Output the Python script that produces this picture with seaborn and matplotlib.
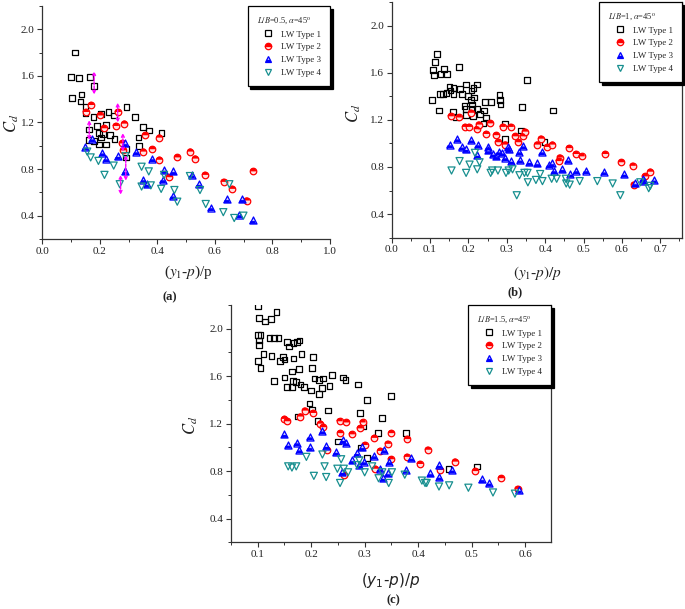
import matplotlib
matplotlib.use("Agg")
from matplotlib import pyplot as plt
from matplotlib.lines import Line2D
from matplotlib.markers import MarkerStyle
from matplotlib.ticker import MultipleLocator
import seaborn as sns

sns.set_theme(style="ticks")
plt.rcParams['font.family'] = ['Liberation Serif', 'DejaVu Serif']
plt.rcParams['mathtext.fontset'] = 'stix'

# ---- data ----
type_labels = ['LW Type 1', 'LW Type 2', 'LW Type 3', 'LW Type 4']

# (a) L/B = 0.5
a_t1_x = [0.114, 0.10, 0.127, 0.165, 0.18, 0.104, 0.136, 0.133, 0.15, 0.15, 0.178, 0.203, 0.23, 0.25,
          0.293, 0.321, 0.221, 0.191, 0.198, 0.211, 0.205, 0.235, 0.251, 0.163, 0.163, 0.18, 0.196,
          0.222, 0.29, 0.29, 0.349, 0.371, 0.334, 0.337, 0.414]
a_t1_y = [1.80, 1.59, 1.58, 1.59, 1.51, 1.41, 1.44, 1.38, 1.33, 1.28, 1.25, 1.27, 1.29, 1.26,
          1.33, 1.25, 1.18, 1.17, 1.11, 1.10, 1.07, 1.09, 1.06, 1.14, 1.05, 1.04, 1.01,
          1.01, 0.97, 0.90, 1.16, 1.13, 1.07, 1.00, 1.11]
a_t2_x = [0.169, 0.151, 0.20, 0.262, 0.214, 0.255, 0.285, 0.277, 0.282, 0.358, 0.407, 0.351, 0.382,
          0.407, 0.469, 0.441, 0.514, 0.531, 0.565, 0.63, 0.66, 0.71, 0.733]
a_t2_y = [1.35, 1.29, 1.26, 1.29, 1.15, 1.17, 1.19, 1.02, 0.96, 1.09, 1.07, 0.95, 0.97,
          0.88, 0.90, 0.73, 0.95, 0.89, 0.75, 0.69, 0.63, 0.53, 0.78]
a_t3_x = [0.149, 0.172, 0.209, 0.221, 0.262, 0.287, 0.287, 0.326, 0.382, 0.351, 0.364, 0.423, 0.418,
          0.455, 0.453, 0.519, 0.543, 0.585, 0.641, 0.695, 0.685, 0.731]
a_t3_y = [0.99, 1.06, 0.94, 0.89, 0.91, 1.02, 0.78, 0.95, 0.89, 0.71, 0.67, 0.79, 0.71,
          0.78, 0.57, 0.75, 0.67, 0.47, 0.54, 0.54, 0.41, 0.36]
a_t4_x = [0.156, 0.168, 0.195, 0.216, 0.248, 0.269, 0.289, 0.345, 0.37, 0.345, 0.377, 0.423, 0.413,
          0.459, 0.469, 0.513, 0.548, 0.568, 0.629, 0.65, 0.667, 0.699]
a_t4_y = [0.95, 0.90, 0.87, 0.75, 0.83, 0.67, 0.91, 0.82, 0.78, 0.65, 0.66, 0.75, 0.63,
          0.62, 0.52, 0.74, 0.62, 0.50, 0.43, 0.67, 0.38, 0.40]
# magenta double arrows in (a)
arr_x = [0.18, 0.163, 0.262, 0.28, 0.29, 0.272]
arr_lo = [1.44, 1.05, 1.20, 0.95, 0.70, 0.58]
arr_hi = [1.64, 1.22, 1.37, 1.11, 0.92, 0.75]

# (b) L/B = 1
b_t1_x = [0.119, 0.112, 0.108, 0.111, 0.106, 0.124, 0.125, 0.133, 0.127, 0.137, 0.145, 0.143, 0.151,
          0.153, 0.161, 0.161, 0.159, 0.168, 0.175, 0.179, 0.183, 0.193, 0.19, 0.198, 0.194, 0.194,
          0.208, 0.206, 0.209, 0.21, 0.212, 0.213, 0.215, 0.222, 0.222, 0.231, 0.239, 0.243, 0.241,
          0.246, 0.258, 0.281, 0.282, 0.284, 0.295, 0.295, 0.337, 0.34, 0.353, 0.398, 0.421]
b_t1_y = [1.76, 1.69, 1.62, 1.58, 1.37, 1.28, 1.42, 1.42, 1.59, 1.63, 1.59, 1.43, 1.48,
          1.45, 1.47, 1.42, 1.27, 1.22, 1.65, 1.46, 1.42, 1.50, 1.32, 1.40, 1.29, 1.24,
          1.45, 1.37, 1.33, 1.29, 1.23, 1.47, 1.39, 1.50, 1.29, 1.25, 1.17, 1.35, 1.28,
          1.22, 1.35, 1.41, 1.37, 1.33, 1.17, 1.04, 1.11, 1.31, 1.54, 1.01, 1.28]
b_t2_x = [0.154, 0.175, 0.191, 0.201, 0.207, 0.222, 0.227, 0.257, 0.246, 0.272, 0.277, 0.289, 0.296,
          0.31, 0.322, 0.33, 0.341, 0.347, 0.379, 0.389, 0.406, 0.419, 0.438, 0.435, 0.462, 0.48,
          0.495, 0.556, 0.599, 0.628, 0.631, 0.66, 0.674]
b_t2_y = [1.23, 1.22, 1.14, 1.14, 1.26, 1.12, 1.16, 1.17, 1.08, 1.07, 1.01, 1.14, 0.99,
          1.14, 1.06, 1.01, 1.06, 1.10, 0.99, 1.04, 0.97, 0.99, 0.88, 0.85, 0.96, 0.91,
          0.89, 0.91, 0.84, 0.81, 0.65, 0.72, 0.76]
b_t3_x = [0.151, 0.171, 0.182, 0.193, 0.208, 0.224, 0.223, 0.251, 0.252, 0.264, 0.273, 0.281, 0.288,
          0.295, 0.302, 0.305, 0.312, 0.333, 0.334, 0.343, 0.359, 0.38, 0.391, 0.41, 0.417, 0.423,
          0.445, 0.459, 0.465, 0.481, 0.506, 0.553, 0.606, 0.635, 0.654, 0.659, 0.683]
b_t3_y = [0.99, 1.04, 0.97, 0.95, 1.03, 0.99, 0.90, 0.97, 0.94, 0.91, 0.89, 0.93, 0.92,
          0.88, 0.97, 0.95, 0.85, 0.93, 0.86, 0.98, 0.84, 0.83, 0.93, 0.82, 0.83, 0.77,
          0.78, 0.86, 0.74, 0.77, 0.77, 0.76, 0.74, 0.66, 0.70, 0.68, 0.69]
b_t4_x = [0.156, 0.177, 0.194, 0.203, 0.217, 0.223, 0.229, 0.258, 0.262, 0.277, 0.298, 0.305, 0.315,
          0.326, 0.333, 0.346, 0.354, 0.355, 0.376, 0.387, 0.393, 0.417, 0.43, 0.454, 0.455, 0.464,
          0.49, 0.536, 0.576, 0.596, 0.648, 0.67, 0.674]
b_t4_y = [0.77, 0.85, 0.75, 0.82, 0.92, 0.78, 0.84, 0.75, 0.77, 0.77, 0.75, 0.77, 0.78,
          0.56, 0.73, 0.75, 0.75, 0.67, 0.69, 0.74, 0.68, 0.70, 0.70, 0.70, 0.66, 0.65,
          0.68, 0.68, 0.66, 0.56, 0.67, 0.62, 0.64]

# (c) L/B = 1.5
c_t1_x = [0.1, 0.103, 0.113, 0.125, 0.135, 0.1, 0.105, 0.102, 0.103, 0.122, 0.13, 0.139, 0.155,
          0.158, 0.167, 0.173, 0.178, 0.111, 0.126, 0.1, 0.105, 0.142, 0.147, 0.15, 0.167, 0.182,
          0.203, 0.131, 0.15, 0.155, 0.164, 0.164, 0.177, 0.166, 0.172, 0.18, 0.187, 0.2, 0.201,
          0.206, 0.214, 0.222, 0.215, 0.22, 0.234, 0.239, 0.259, 0.264, 0.287, 0.197, 0.201, 0.175,
          0.212, 0.231, 0.291, 0.304, 0.298, 0.25, 0.293, 0.304, 0.325, 0.332, 0.349, 0.377, 0.457,
          0.51]
c_t1_y = [2.19, 2.09, 2.06, 2.08, 2.14, 1.95, 1.95, 1.90, 1.86, 1.92, 1.92, 1.92, 1.89,
          1.85, 1.88, 1.89, 1.90, 1.79, 1.77, 1.73, 1.67, 1.73, 1.76, 1.74, 1.75, 1.79,
          1.76, 1.56, 1.59, 1.51, 1.51, 1.64, 1.66, 1.56, 1.55, 1.53, 1.51, 1.48, 1.67,
          1.58, 1.57, 1.58, 1.45, 1.50, 1.52, 1.61, 1.59, 1.57, 1.53, 1.37, 1.32, 1.26,
          1.22, 1.31, 1.29, 1.40, 1.18, 1.05, 1.00, 0.91, 1.12, 1.25, 1.43, 1.12, 0.82,
          0.84]
c_t2_x = [0.15, 0.155, 0.18, 0.188, 0.203, 0.217, 0.222, 0.253, 0.266, 0.254, 0.276, 0.291, 0.296,
          0.23, 0.3, 0.318, 0.329, 0.32, 0.343, 0.35, 0.349, 0.261, 0.379, 0.38, 0.403, 0.418,
          0.441, 0.469, 0.507, 0.555, 0.586]
c_t2_y = [1.24, 1.22, 1.26, 1.31, 1.29, 1.20, 1.17, 1.22, 1.21, 1.12, 1.11, 1.16, 1.21,
          0.98, 1.02, 1.08, 0.97, 0.82, 1.03, 1.12, 0.90, 0.77, 0.92, 1.07, 0.86, 0.98,
          0.81, 0.88, 0.80, 0.74, 0.65]
c_t3_x = [0.15, 0.156, 0.173, 0.178, 0.197, 0.197, 0.221, 0.228, 0.246, 0.259, 0.265, 0.258, 0.277,
          0.285, 0.295, 0.298, 0.29, 0.317, 0.328, 0.335, 0.337, 0.343, 0.346, 0.378, 0.387, 0.423,
          0.439, 0.439, 0.463, 0.519, 0.532, 0.588]
c_t3_y = [1.11, 1.02, 1.04, 0.98, 1.09, 1.00, 1.14, 1.01, 0.96, 1.06, 1.04, 0.79, 0.89,
          0.95, 1.00, 0.88, 0.85, 0.93, 0.82, 0.74, 0.98, 0.78, 0.88, 0.81, 0.91, 0.78,
          0.85, 0.75, 0.81, 0.73, 0.70, 0.64]
c_t4_x = [0.157, 0.164, 0.172, 0.191, 0.205, 0.221, 0.225, 0.228, 0.249, 0.254, 0.256, 0.261, 0.269,
          0.286, 0.29, 0.3, 0.314, 0.326, 0.333, 0.345, 0.351, 0.375, 0.407, 0.413, 0.416, 0.439,
          0.458, 0.494, 0.54, 0.581]
c_t4_y = [0.84, 0.83, 0.84, 0.92, 0.76, 0.94, 0.84, 0.75, 0.82, 0.70, 0.90, 0.82, 0.79,
          0.85, 0.89, 0.79, 0.84, 0.74, 0.79, 0.70, 0.79, 0.77, 0.72, 0.70, 0.70, 0.67,
          0.68, 0.66, 0.62, 0.61]

RED = '#ff0000'
BLUE = '#0000ff'
TEAL = '#178f8f'


def open_pts(ax, x, y, marker, color, size):
    sns.scatterplot(x=x, y=y, ax=ax, marker=marker, s=size, facecolor='none',
                    edgecolor=color, linewidth=0.9, legend=False, zorder=3)


def half_pts(ax, x, y, marker, fill, color, alt, size):
    # full marker in the light colour, then the solid half on top
    sns.scatterplot(x=x, y=y, ax=ax, marker=marker, s=size, color=alt,
                    edgecolor=color, linewidth=0.9, legend=False, zorder=3)
    sns.scatterplot(x=x, y=y, ax=ax, marker=MarkerStyle(marker, fillstyle=fill), s=size,
                    color=color, edgecolor='none', linewidth=0, legend=False, zorder=3)


def draw_panel(ax, t1, t2, t3, t4):
    open_pts(ax, t1[0], t1[1], 's', 'black', 17)
    half_pts(ax, t2[0], t2[1], 'o', 'top', RED, '#ffe0e0', 22)
    half_pts(ax, t3[0], t3[1], '^', 'bottom', BLUE, '#c8c8ff', 26)
    open_pts(ax, t4[0], t4[1], 'v', TEAL, 26)


def add_legend(ax, title):
    handles = [
        Line2D([], [], ls='none', marker='s', ms=4.2, mfc='none', mec='black', mew=0.9),
        Line2D([], [], ls='none', marker='o', ms=4.6, fillstyle='top', mfc=RED,
               mfcalt='#ffe0e0', mec=RED, mew=0.9),
        Line2D([], [], ls='none', marker='^', ms=5.0, fillstyle='bottom', mfc=BLUE,
               mfcalt='#c8c8ff', mec=BLUE, mew=0.9),
        Line2D([], [], ls='none', marker='v', ms=5.0, mfc='none', mec=TEAL, mew=0.9),
    ]
    leg = ax.legend(handles=handles, labels=type_labels, title=title, loc='upper right',
                    bbox_to_anchor=(1, 1), borderaxespad=0, frameon=True, fancybox=False,
                    shadow={'color': 'black', 'alpha': 1}, edgecolor='black', framealpha=1,
                    fontsize=6.5, title_fontsize=6, handlelength=2.6, handletextpad=0.1,
                    labelspacing=0.5, borderpad=1.0, alignment='left')
    leg.get_frame().set_linewidth(0.9)


def style_axes(ax, xlim, xmaj, xmin, right_spine):
    ax.set_xlim(*xlim)
    ax.set_ylim(0.2, 2.2)
    ax.xaxis.set_major_locator(MultipleLocator(xmaj))
    ax.xaxis.set_minor_locator(MultipleLocator(xmin))
    ax.yaxis.set_major_locator(MultipleLocator(0.4))
    ax.yaxis.set_minor_locator(MultipleLocator(0.2))
    ax.set_yticks([0.4, 0.8, 1.2, 1.6, 2.0])
    ax.tick_params(which='major', direction='out', length=3.5, width=0.8,
                   labelsize=8, labelcolor='#222222', color='#333333', pad=2)
    ax.tick_params(which='minor', direction='out', length=2, width=0.7, color='#333333')
    ax.xaxis.set_major_formatter(matplotlib.ticker.FormatStrFormatter('%.1f'))
    ax.yaxis.set_major_formatter(matplotlib.ticker.FormatStrFormatter('%.1f'))
    ax.spines['top'].set_visible(False)
    ax.spines['right'].set_visible(right_spine)
    for s in ax.spines.values():
        s.set_color('#333333')
        s.set_linewidth(0.9)
    ax.set_facecolor('white')


fig = plt.figure(figsize=(6.85, 6.09), dpi=100)
fig.patch.set_facecolor('white')

ax_a = fig.add_axes([0.0618, 0.6076, 0.4200, 0.3826])
ax_b = fig.add_axes([0.5718, 0.6097, 0.4234, 0.3870])
ax_c = fig.add_axes([0.3372, 0.1095, 0.4668, 0.3897])

# (a)
draw_panel(ax_a, (a_t1_x, a_t1_y), (a_t2_x, a_t2_y), (a_t3_x, a_t3_y), (a_t4_x, a_t4_y))
for xv, lo, hi in zip(arr_x, arr_lo, arr_hi):
    ax_a.annotate('', xy=(xv, hi), xytext=(xv, lo),
                  arrowprops=dict(arrowstyle='<->', color='#ff00ff', lw=1.0, ls=(0, (2, 1)),
                                  mutation_scale=5, shrinkA=0, shrinkB=0), zorder=4)
style_axes(ax_a, (0.0, 1.0), 0.2, 0.1, False)
add_legend(ax_a, r'$L/B$=0.5, $\alpha$=45$^{\rm o}$')

# (b)
draw_panel(ax_b, (b_t1_x, b_t1_y), (b_t2_x, b_t2_y), (b_t3_x, b_t3_y), (b_t4_x, b_t4_y))
style_axes(ax_b, (0.0, 0.756), 0.1, 0.05, True)
add_legend(ax_b, r'$L/B$=1, $\alpha$=45$^{\rm o}$')

# (c)
draw_panel(ax_c, (c_t1_x, c_t1_y), (c_t2_x, c_t2_y), (c_t3_x, c_t3_y), (c_t4_x, c_t4_y))
style_axes(ax_c, (0.05, 0.648), 0.1, 0.05, True)
add_legend(ax_c, r'$L/B$=1.5, $\alpha$=45$^{\rm o}$')

# axis labels and panel tags, placed in figure pixels
W, H = 685.0, 609.0


def ftext(px, py, s, **kw):
    fig.text(px / W, 1 - py / H, s, ha='center', va='center', **kw)


ftext(12, 123, r'$C_d$', fontsize=12, rotation=90, color='#222222')
ftext(354, 113, r'$C_d$', fontsize=12, rotation=90, color='#222222')
ftext(191, 425, r'$C_d$', fontsize=12, rotation=90, color='#222222')

ftext(188, 272, r'($y_1$-$p$)/p', fontsize=11, color='#222222')
ftext(538, 273, r'$(y_1$-$p)/p$', fontsize=11, color='#222222')
ftext(391, 580, r'$(y_1$-$p)/p$', fontsize=11, color='#222222',
      family='DejaVu Sans', math_fontfamily='dejavusans')

ftext(170, 297, '(a)', fontsize=9, fontweight='bold', color='#222222')
ftext(515, 292, '(b)', fontsize=9, fontweight='bold', color='#222222')
ftext(393, 600, '(c)', fontsize=9, fontweight='bold', color='#222222')

fig.savefig('out.png', dpi=100, facecolor='white')
